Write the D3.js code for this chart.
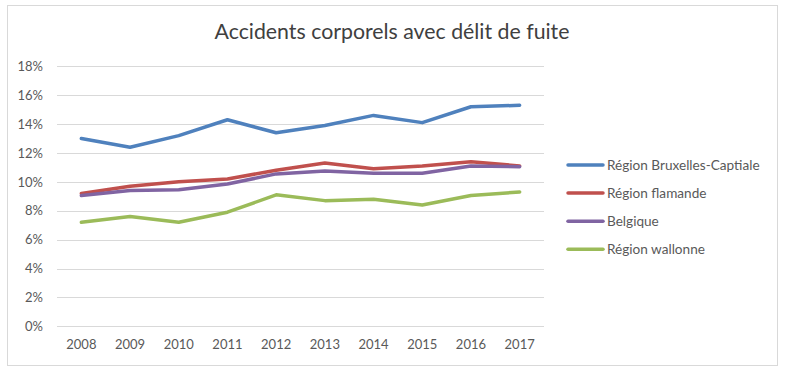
<!DOCTYPE html>
<html><head><meta charset="utf-8">
<script src="https://cdn.jsdelivr.net/npm/d3@7"></script>
<style>body{margin:0;background:#fff}svg{display:block}</style>
</head><body>
<script>
const years = ["2008","2009","2010","2011","2012","2013","2014","2015","2016","2017"];
const seriesNames = ["Région Bruxelles-Captiale","Région flamande","Belgique","Région wallonne"];
const bruxelles = [13.0,12.4,13.2,14.3,13.4,13.9,14.6,14.1,15.2,15.3];
const flamande  = [9.2,9.7,10.0,10.2,10.8,11.3,10.9,11.1,11.4,11.1];
const belgique  = [9.05,9.4,9.45,9.85,10.55,10.75,10.6,10.6,11.1,11.05];
const wallonne  = [7.2,7.6,7.2,7.9,9.1,8.7,8.8,8.4,9.05,9.3];
const yTicks = [0,2,4,6,8,10,12,14,16,18];
const colors = ["#4F81BD","#C0504D","#8064A2","#9BBB59"];
const title = "Accidents corporels avec délit de fuite";

const data = [bruxelles, flamande, belgique, wallonne];
const W = 785, H = 374;
const svg = d3.select("body").append("svg").attr("width", W).attr("height", H);
const font = "Lato, 'Open Sans', sans-serif";

svg.append("rect").attr("x",7.5).attr("y",5.5).attr("width",770).attr("height",360)
  .attr("fill","#fff").attr("stroke","#D9D9D9");

const x = d3.scaleBand().domain(years).range([57,544]);
const y = d3.scaleLinear().domain([0,18]).range([326.3,66.3]);

// gridlines
svg.append("g").selectAll("line").data(yTicks).join("line")
  .attr("x1",57).attr("x2",544)
  .attr("y1",d=>Math.round(y(d))+0.5).attr("y2",d=>Math.round(y(d))+0.5)
  .attr("stroke","#D9D9D9").attr("stroke-width",1);

// y axis
const yAxis = d3.axisLeft(y).tickValues(yTicks).tickFormat(d=>d+"%").tickSize(0).tickPadding(0);
const gy = svg.append("g").attr("transform","translate(43,0)").call(yAxis);
gy.select(".domain").remove();
gy.selectAll("text").attr("font-family",font).attr("font-size",13).attr("fill","#595959");

// x axis
const xAxis = d3.axisBottom(x).tickSize(0).tickPadding(0);
const gx = svg.append("g").attr("transform","translate(0,340)").call(xAxis);
gx.select(".domain").remove();
gx.selectAll("text").attr("font-family",font).attr("font-size",13).attr("fill","#595959");

// lines
const line = d3.line().x((d,i)=>x(years[i])+x.bandwidth()/2).y(d=>y(d));
svg.append("g").selectAll("path").data(data).join("path")
  .attr("d",line).attr("fill","none")
  .attr("stroke",(d,i)=>colors[i]).attr("stroke-width",3.5)
  .attr("stroke-linejoin","round").attr("stroke-linecap","round");

// title
svg.append("text").attr("x",392).attr("y",39).attr("text-anchor","middle")
  .attr("font-family",font).attr("font-size",21.3).attr("fill","#404040").text(title);

// legend
const lg = svg.append("g").selectAll("g").data(seriesNames).join("g")
  .attr("transform",(d,i)=>`translate(568,${165+i*28.1})`);
lg.append("line").attr("x1",0).attr("x2",35).attr("y1",0).attr("y2",0)
  .attr("stroke",(d,i)=>colors[i]).attr("stroke-width",3.5).attr("stroke-linecap","round");
lg.append("text").attr("x",39).attr("y",0).attr("dy","0.35em")
  .attr("font-family",font).attr("font-size",13.6).attr("fill","#595959").text(d=>d);
</script>
</body></html>
